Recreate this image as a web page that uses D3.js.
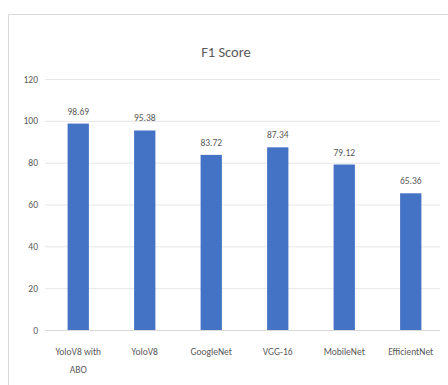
<!DOCTYPE html>
<html><head><meta charset="utf-8">
<script src="https://cdn.jsdelivr.net/npm/d3@7"></script>
<style>html,body{margin:0;padding:0;background:#fff;overflow:hidden}svg{display:block}</style>
</head><body>
<svg id="c" width="448" height="385"></svg>
<script>
const categories = [["YoloV8 with","ABO"],["YoloV8"],["GoogleNet"],["VGG-16"],["MobileNet"],["EfficientNet"]];
const values = [98.69, 95.38, 83.72, 87.34, 79.12, 65.36];
const yTicks = [0,20,40,60,80,100,120];
const title = "F1 Score";

const svg = d3.select("#c");
const font = "Calibri, Carlito, 'Liberation Sans', Arial, sans-serif";
svg.append("path").attr("d","M8.5,385V14.5H448").attr("fill","none").attr("stroke","#d9d9d9");

const x = d3.scaleBand().domain(categories.map((d,i)=>i)).range([45,444]).paddingInner(0.68).paddingOuter(0.34);
const y = d3.scaleLinear().domain([0,120]).range([330,79]);

const g = svg.append("g");
g.selectAll("line.grid").data(yTicks).join("line")
  .attr("x1",45).attr("x2",440).attr("y1",d=>y(d)+0.5).attr("y2",d=>y(d)+0.5)
  .attr("stroke","#e6e6e6").attr("stroke-width",1);

const yAxis = d3.axisLeft(y).tickValues(yTicks).tickSize(0).tickPadding(0);
const ya = svg.append("g").attr("transform","translate(38,0)").call(yAxis);
ya.select(".domain").remove();
ya.selectAll("text").attr("fill","#595959").attr("font-size",9.5).attr("font-family",font);

g.selectAll("rect.bar").data(values).join("rect")
  .attr("x",(d,i)=>x(i)).attr("width",x.bandwidth())
  .attr("y",d=>y(d)).attr("height",d=>y(0)-y(d)).attr("fill","#4472C4");

g.selectAll("text.val").data(values).join("text")
  .attr("x",(d,i)=>x(i)+x.bandwidth()/2).attr("y",d=>y(d)-9)
  .attr("text-anchor","middle").attr("fill","#595959").attr("font-size",9.5).attr("font-family",font)
  .text(d=>d.toFixed(2));

const xa = svg.append("g").attr("transform","translate(0,330)").call(d3.axisBottom(x).tickSize(0).tickFormat(""));
xa.select(".domain").attr("stroke","#d9d9d9").attr("d","M45,0.5H440");
categories.forEach((lines,i)=>{
  const t = svg.append("text").attr("x",x(i)+x.bandwidth()/2).attr("y",355)
    .attr("text-anchor","middle").attr("fill","#595959").attr("font-size",9.5).attr("font-family",font);
  lines.forEach((l,j)=>t.append("tspan").attr("x",x(i)+x.bandwidth()/2).attr("dy",j?18:0).text(l));
});

svg.append("text").attr("x",226).attr("y",57).attr("text-anchor","middle")
  .attr("fill","#595959").attr("font-size",14.5).attr("font-family",font).text(title);
</script>
</body></html>
